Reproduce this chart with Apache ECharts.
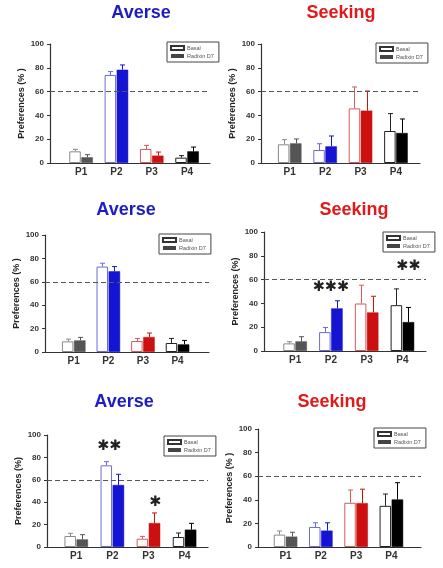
<!DOCTYPE html>
<html><head><meta charset="utf-8">
<script src="https://cdn.jsdelivr.net/npm/echarts@6/dist/echarts.min.js"></script>
<style>html,body{margin:0;padding:0;background:#fff}#c{width:443px;height:568px}</style>
</head><body><div id="c"></div>
<script>
// ---------- DATA ----------
const categories = ['P1', 'P2', 'P3', 'P4'];
const seriesNames = ['Basal', 'Radixin D7'];
const referenceLine = 60;

// Row 1
const averse1Basal = [9.8, 74, 11.8, 4.5];
const averse1BasalErr = [1.7, 2.8, 3, 1.7];
const averse1Radixin = [4.8, 78.4, 6.2, 9.8];
const averse1RadixinErr = [2.2, 4, 3, 3.6];
const averse1Sig = [];

const seeking1Basal = [15.7, 10.9, 45.9, 26.9];
const seeking1BasalErr = [3.9, 5.3, 18, 14.6];
const seeking1Radixin = [16.5, 14, 44, 25.2];
const seeking1RadixinErr = [3.7, 8.7, 16.5, 11.8];
const seeking1Sig = [];

// Row 2
const averse2Basal = [9.1, 73, 9.4, 7.7];
const averse2BasalErr = [1.9, 2.9, 2.2, 3.9];
const averse2Radixin = [9.9, 69, 12.8, 6.5];
const averse2RadixinErr = [2.6, 4, 3.4, 3.4];
const averse2Sig = [];

const seeking2Basal = [6.4, 15.9, 39.9, 38.5];
const seeking2BasalErr = [1.4, 3.9, 15.4, 13.7];
const seeking2Radixin = [8.1, 35.8, 32.4, 24.3];
const seeking2RadixinErr = [3.9, 6.4, 13.6, 12.3];
const seeking2Sig = [['P2', 54, '***'], ['P4', 71, '**']];

// Row 3
const averse3Basal = [9.8, 72.9, 7.4, 8.9];
const averse3BasalErr = [2.4, 3.3, 2.1, 3.6];
const averse3Radixin = [6.8, 55.4, 21.4, 15.5];
const averse3RadixinErr = [4.2, 9.5, 9, 5.6];
const averse3Sig = [['P2', 90, '**'], ['P3', 40, '*']];

const seeking3Basal = [10.5, 17, 37.5, 34.9];
const seeking3BasalErr = [3.1, 3.5, 10.8, 10];
const seeking3Radixin = [8.8, 13.9, 37.2, 40.3];
const seeking3RadixinErr = [3.7, 6.6, 11.8, 14.2];
const seeking3Sig = [];

// ---------- STYLE / LAYOUT ----------
const FONT = '"Liberation Sans", Arial, sans-serif';
const edgeColors = ['#8a8a8a', '#6a6ad8', '#d65a5a', '#222222'];
const fillColors = ['#555555', '#1414d2', '#cc1010', '#000000'];
const BLUE = '#1d1dc8', RED = '#e01a1a';
const BAR_W = 11.5, BAR_GAP = 0.05;

const panels = [
  { title: 'Averse', color: BLUE, tp: [141, 13], basal: averse1Basal, basalErr: averse1BasalErr, rad: averse1Radixin, radErr: averse1RadixinErr, sig: averse1Sig, sigDx: [],
    yName: 'Preferences (% )', grid: { left: 50, top: 44, width: 160, height: 119 }, xr: [0.12, 4.65], lg: [167, 42] },
  { title: 'Seeking', color: RED, tp: [341, 13], basal: seeking1Basal, basalErr: seeking1BasalErr, rad: seeking1Radixin, radErr: seeking1RadixinErr, sig: seeking1Sig, sigDx: [],
    yName: 'Preferences (% )', grid: { left: 261, top: 44, width: 159, height: 119 }, xr: [0.19, 4.68], lg: [376, 43] },
  { title: 'Averse', color: BLUE, tp: [126, 210], basal: averse2Basal, basalErr: averse2BasalErr, rad: averse2Radixin, radErr: averse2RadixinErr, sig: averse2Sig, sigDx: [],
    yName: 'Preferences (% )', grid: { left: 45, top: 235, width: 164, height: 117 }, xr: [0.17, 4.91], lg: [159, 234] },
  { title: 'Seeking', color: RED, tp: [354, 210], basal: seeking2Basal, basalErr: seeking2BasalErr, rad: seeking2Radixin, radErr: seeking2RadixinErr, sig: seeking2Sig, sigDx: [0, 6],
    yName: 'Preferences (%)', grid: { left: 264, top: 232, width: 162, height: 119 }, xr: [0.13, 4.66], lg: [383, 232] },
  { title: 'Averse', color: BLUE, tp: [124, 402], basal: averse3Basal, basalErr: averse3BasalErr, rad: averse3Radixin, radErr: averse3RadixinErr, sig: averse3Sig, sigDx: [-3, 7],
    yName: 'Preferences (%)', grid: { left: 47, top: 435, width: 161, height: 112 }, xr: [0.19, 4.65], lg: [164, 436] },
  { title: 'Seeking', color: RED, tp: [332, 402], basal: seeking3Basal, basalErr: seeking3BasalErr, rad: seeking3Radixin, radErr: seeking3RadixinErr, sig: seeking3Sig, sigDx: [],
    yName: 'Preferences (% )', grid: { left: 258, top: 429, width: 163, height: 118 }, xr: [0.22, 4.84], lg: [374, 428] }
];

const axisLine = { show: true, onZero: false, lineStyle: { color: '#333', width: 1.2 } };
const option = { animation: false, backgroundColor: '#fff', title: [], grid: [], xAxis: [], yAxis: [], legend: [], series: [] };

panels.forEach((p, i) => {
  option.title.push({ text: p.title, left: p.tp[0], top: p.tp[1], padding: 0, textAlign: 'center', textVerticalAlign: 'middle',
    textStyle: { fontFamily: FONT, fontSize: 18, fontWeight: 'bold', color: p.color } });
  option.grid.push(Object.assign({ containLabel: false }, p.grid));
  option.xAxis.push({ type: 'value', gridIndex: i, min: p.xr[0], max: p.xr[1], axisLine: axisLine,
    axisTick: { show: false }, splitLine: { show: false },
    axisLabel: { customValues: categories.map((c, k) => k + 1), formatter: v => categories[Math.round(v) - 1] || '',
      fontFamily: FONT, fontSize: 10, fontWeight: 'bold', color: '#333', margin: 4 } });
  option.yAxis.push({ type: 'value', gridIndex: i, min: 0, max: 100, interval: 20, axisLine: axisLine,
    axisTick: { show: true, length: 3, lineStyle: { color: '#333', width: 1 } }, splitLine: { show: false },
    axisLabel: { fontFamily: FONT, fontSize: 8, fontWeight: 'bold', color: '#333', margin: 6 },
    name: p.yName, nameLocation: 'middle', nameGap: 24,
    nameTextStyle: { fontFamily: FONT, fontSize: 9, fontWeight: 'bold', color: '#222' } });
  option.legend.push({ data: seriesNames, left: p.lg[0], top: p.lg[1], orient: 'vertical', selectedMode: false,
    itemWidth: 13, itemHeight: 4, itemGap: 2, padding: [3, 5, 3, 3], borderColor: '#444', borderWidth: 1,
    icon: 'rect', textStyle: { fontFamily: FONT, fontSize: 5.5, color: '#555', padding: [0, 0, 0, -2] } });

  option.series.push({
    type: 'bar', name: seriesNames[0], xAxisIndex: i, yAxisIndex: i, barWidth: BAR_W, barGap: (BAR_GAP * 100) + '%',
    itemStyle: { color: '#fff', borderColor: '#333', borderWidth: 1 },
    data: p.basal.map((v, k) => ({ value: [k + 1, v], itemStyle: { color: '#fff', borderColor: edgeColors[k], borderWidth: 1 } })),
    markLine: { silent: true, symbol: 'none', label: { show: false },
      lineStyle: { type: [5, 3], color: '#555', width: 1.2 }, data: [{ yAxis: referenceLine }] }
  });
  option.series.push({
    type: 'bar', name: seriesNames[1], xAxisIndex: i, yAxisIndex: i, barWidth: BAR_W, barGap: (BAR_GAP * 100) + '%',
    itemStyle: { color: '#444' },
    data: p.rad.map((v, k) => ({ value: [k + 1, v], itemStyle: { color: fillColors[k], borderColor: fillColors[k], borderWidth: 0.5 } }))
  });
  const errData = p.basal.map((v, k) => [k + 1, v, p.basalErr[k], k, -1])
    .concat(p.rad.map((v, k) => [k + 1, v, p.radErr[k], k, 1]));
  option.series.push({
    type: 'custom', xAxisIndex: i, yAxisIndex: i, silent: true, z: 3, data: errData,
    renderItem: (params, api) => {
      const x = api.value(0), v = api.value(1), e = api.value(2), k = api.value(3), side = api.value(4);
      const base = api.coord([x, v]), top = api.coord([x, v + e]);
      const off = side * BAR_W * (1 + BAR_GAP) / 2;
      const px = Math.round(base[0] + off) + 0.5;
      const col = side < 0 ? edgeColors[k] : fillColors[k];
      const st = { stroke: col, lineWidth: 1 };
      return { type: 'group', children: [
        { type: 'line', shape: { x1: px, y1: base[1], x2: px, y2: top[1] }, style: st },
        { type: 'line', shape: { x1: px - 2.5, y1: top[1], x2: px + 2.5, y2: top[1] }, style: st }
      ] };
    }
  });
  if (p.sig.length) {
    option.series.push({
      type: 'custom', xAxisIndex: i, yAxisIndex: i, silent: true, z: 4,
      data: p.sig.map(s => [categories.indexOf(s[0]) + 1, s[1]]),
      renderItem: (params, api) => {
        const pt = api.coord([api.value(0), api.value(1)]);
        const txt = p.sig[params.dataIndex][2].replace(/\*/g, '\u2731');
        return { type: 'text', x: pt[0] + (p.sigDx[params.dataIndex] || 0), y: pt[1],
          style: { text: txt, align: 'center', verticalAlign: 'middle', fill: '#222',
            font: 'bold 14.5px "DejaVu Sans"' } };
      }
    });
  }
});

const chart = echarts.init(document.getElementById('c'), null, { renderer: 'canvas' });
chart.setOption(option);
</script>
</body></html>
